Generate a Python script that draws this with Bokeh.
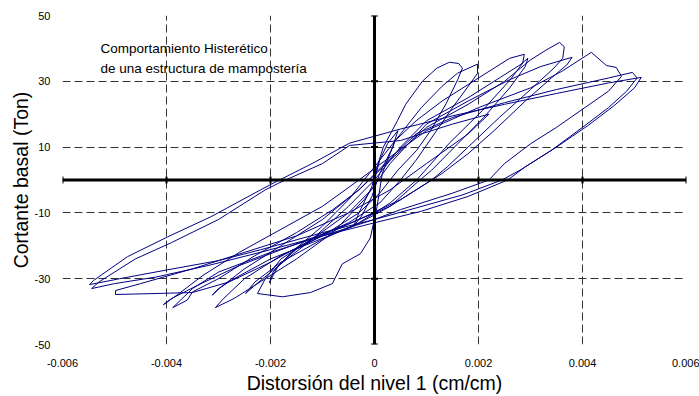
import numpy as np
from bokeh.plotting import figure
from bokeh.models import FixedTicker, Range1d, Label, Span
from bokeh.embed import file_html
from bokeh.resources import INLINE

# ---- axis / tick data ----
x_ticks = [-0.006, -0.004, -0.002, 0.0, 0.002, 0.004, 0.006]
x_tick_labels = ["-0.006", "-0.004", "-0.002", "0", "0.002", "0.004", "0.006"]
y_ticks = [-50, -30, -10, 10, 30, 50]
y_tick_labels = ["-50", "-30", "-10", "10", "30", "50"]
grid_x = [-0.006, -0.004, -0.002, 0.002, 0.004, 0.006]
grid_y = [-50, -30, -10, 10, 30, 50]
zero_axis_y_ticks = [-50, -30, -10, 10, 30, 50]

# ---- hysteresis record: drift in 1e-3 cm/cm, base shear in Ton ----
drift_milli = [
    0.0, 0.10, 0.25, 0.45, 0.35, 0.10, -0.05, -0.25, -0.40, -0.30, -0.05, 0.05,
    0.17, 0.44, 0.60, 0.92, 1.20, 1.44, 1.62, 1.69, 1.60, 1.38, 1.10, 0.81, 0.45, 0.10,
    -0.30, -0.90, -1.50, -1.85, -2.02, -1.95, -1.60, -1.00, -0.50, -0.10, 0.20,
    0.50, 0.90, 1.30, 1.60, 1.98, 1.98, 1.85, 1.50, 1.15, 0.80, 0.50, 0.10, -0.50,
    -1.20, -1.80, -2.10, -2.25, -1.77, -1.23, -0.81, -0.62, -0.27, -0.08, 0.05, 0.15, 0.40,
    0.80, 1.30, 1.80, 2.30, 2.60, 2.88, 2.85, 2.60, 2.08, 1.44, 0.81, 0.30, -0.30,
    -1.00, -1.80, -2.30, -2.48, -2.30, -1.80, -1.20, -0.50, 0.00, 0.50,
    1.00, 1.80, 2.40, 2.80, 2.95, 2.90, 2.60, 2.10, 1.60, 1.10, 0.80, 0.30, -0.40,
    -1.20, -2.00, -2.70, -3.00, -3.12, -2.95, -2.50, -1.80, -1.00, -0.30, 0.30,
    1.00, 1.80, 2.50, 3.00, 3.30, 3.56, 3.65, 3.62, 3.45, 3.00, 2.40, 1.80, 1.40, 1.10,
    0.50, -0.30, -1.00, -1.80, -2.50, -2.90, -3.06, -2.70, -2.20, -1.50, -0.80, -0.20, 0.30,
    1.00, 1.80, 2.60, 3.20, 3.80, 3.70, 3.40, 2.90, 2.30, 1.80, 1.30, 1.00, 0.30, -0.60,
    -1.60, -2.60, -3.40, -3.90, -4.06, -3.80, -3.30, -2.60, -1.80, -1.00, -0.30, 0.30,
    1.00, 2.00, 3.00, 3.60, 4.17, 4.46, 4.65, 4.75, 4.50, 4.00, 3.50, 3.00, 2.50, 2.20,
    1.50, 0.50, 0.00, -1.00, -2.00, -3.00, -3.50, -3.88, -3.60, -3.50, -3.00, -2.30,
    -1.50, -0.80, -0.30, 0.20,
    0.80, 1.50, 2.50, 3.50, 4.50, 4.96, 5.05, 4.85, 4.50, 4.00, 3.40, 2.80, 2.45, 1.70,
    0.80, 0.00, -1.00, -2.19, -3.00, -3.98, -4.90, -5.48, -5.40, -4.75, -3.98, -3.15,
    -2.19, -1.94, -1.20, -0.48,
    0.50, 1.50, 2.50, 3.50, 4.50, 5.13, 5.00, 4.60, 4.10, 3.50, 2.90, 2.56, 1.80, 0.90,
    0.00, -1.00, -2.20, -3.20, -4.20, -5.00, -5.44, -5.30, -4.60, -3.90, -3.00, -2.10,
    -1.85, -1.00, -0.48,
    0.50, 1.50, 2.20, 1.80, 1.00, 0.30, -0.50, -1.50, -2.50, -3.50, -4.50, -4.98, -4.98,
    -4.20, -3.50, -2.80, -2.00, -1.20, -0.50, 0.00,
]
shear_ton = [
    0, 6, 11, 15, 10, 2, -5, -11, -14, -10, -2, 4,
    10, 18, 23, 30, 34, 35.8, 35.4, 34.0, 30.5, 23.3, 15.5, 9, 3, -4,
    -10, -16, -21, -26, -31.2, -28, -22, -14, -6, 2, 8,
    14, 22, 28.5, 32.5, 35.2, 32.4, 29.5, 22, 14, 6, 0, -7, -13,
    -18, -24, -30, -34.5, -35.5, -34.2, -31.5, -25.5, -22.4, -17.6, -8, 2, 12,
    18, 24, 29, 34, 37, 38.2, 35.5, 30.3, 21.2, 11.2, 0, -7, -13,
    -18, -25, -31, -34.5, -32, -25.5, -18, -8, 0, 10,
    18, 25, 31, 35, 37, 34.5, 28, 19, 11, 3, -1, -8, -14,
    -19, -24, -30, -33, -35, -32.5, -27, -20, -12, -3, 6,
    16, 23, 30, 36.5, 39.5, 41.8, 40.5, 37, 34, 27.5, 19, 10, 4, 0,
    -6, -12, -17, -23, -30, -36, -38.8, -36, -31, -24, -16, -6, 5,
    17, 24, 30.5, 34.5, 37.3, 35, 31, 24, 15, 8, 2, -1, -8, -14,
    -20, -26, -32, -36, -37.9, -35, -29, -22, -15, -8, 0, 7,
    15, 22, 28, 33, 38.8, 34.8, 34.2, 31.5, 27, 21.5, 16, 11, 5, 0,
    -4, -9, -12, -17, -22, -28, -33, -38.8, -36.5, -34, -30, -23,
    -16, -9, -3, 5,
    14, 19, 23.5, 27.5, 31, 32.7, 31, 27, 22, 16, 9, 3, 0, -4.5,
    -8.5, -12, -16, -21.2, -24.5, -27.3, -30, -31.8, -30.5, -23.3, -17.3, -11.2,
    -3, -0.9, 5, 11.2,
    15.5, 19.5, 23, 26.3, 29.5, 31.2, 28, 22.5, 16.5, 10, 4, 0, -5, -9.5,
    -13, -17, -22, -26, -29.5, -31.5, -33, -31, -24, -19, -12, -3,
    -1, 5, 10.5,
    12, 17, 20, 14, 5, -3, -10, -17, -22, -27, -31.5, -33.6, -34.8,
    -34.5, -34.2, -31, -25, -18, -10, -2,
]

drift = np.array(drift_milli) * 1e-3
shear = np.array(shear_ton, dtype=float)

FONT = "Liberation Sans"

p = figure(
    width=699, height=396,
    x_range=Range1d(-0.006, 0.006), y_range=Range1d(-50, 50),
    output_backend="svg", toolbar_location=None,
    min_border_left=62, min_border_right=13, min_border_top=15, min_border_bottom=51,
)
p.outline_line_color = None
p.background_fill_color = "white"

# dashed grid
for g, ticks in ((p.xgrid, grid_x), (p.ygrid, grid_y)):
    g.ticker = FixedTicker(ticks=ticks)
    g.grid_line_color = "#333333"
    g.grid_line_dash = "8 4"
    g.grid_line_width = 1

# axes (labels only)
p.xaxis.ticker = FixedTicker(ticks=x_ticks)
p.xaxis.major_label_overrides = dict(zip(x_ticks, x_tick_labels))
p.yaxis.ticker = FixedTicker(ticks=y_ticks)
p.yaxis.major_label_overrides = dict(zip(y_ticks, y_tick_labels))
for ax in (p.xaxis[0], p.yaxis[0]):
    ax.axis_line_color = None
    ax.major_tick_line_color = None
    ax.minor_tick_line_color = None
    ax.major_tick_out = 0
    ax.major_tick_in = 0
    ax.minor_tick_out = 0
    ax.major_label_text_font = FONT
    ax.major_label_text_font_size = "11px"
    ax.major_label_text_color = "black"
    ax.axis_label_text_font = FONT
    ax.axis_label_text_font_size = "19.5px"
    ax.axis_label_text_font_style = "normal"
    ax.axis_label_text_color = "black"
p.xaxis.axis_label = "Distorsión del nivel 1 (cm/cm)"
p.yaxis.axis_label = "Cortante basal (Ton)"
p.xaxis.major_label_standoff = 14
p.xaxis.axis_label_standoff = 2
p.yaxis.major_label_standoff = 12
p.yaxis.axis_label_standoff = 0

# thick zero axes
p.add_layout(Span(location=0, dimension="width", line_color="black", line_width=3))
p.add_layout(Span(location=0, dimension="height", line_color="black", line_width=3))

# small tick marks on the zero axes
p.scatter(x=x_ticks, y=[0] * len(x_ticks), marker="dash", angle=np.pi / 2,
          size=7, line_color="black", line_width=2)
p.scatter(x=[0] * len(zero_axis_y_ticks), y=zero_axis_y_ticks, marker="dash",
          size=7, line_color="black", line_width=2)

# hysteresis curve
p.line(drift, shear, line_color="#000080", line_width=1)

# annotation
p.add_layout(Label(x=-0.00527, y=40, text="Comportamiento Histerético",
                   text_font=FONT, text_font_size="13.5px", text_baseline="middle",
                   text_color="black"))
p.add_layout(Label(x=-0.00527, y=33.9, text="de una estructura de mampostería",
                   text_font=FONT, text_font_size="13.5px", text_baseline="middle",
                   text_color="black"))

open("out.html", "w").write(file_html(p, INLINE))
